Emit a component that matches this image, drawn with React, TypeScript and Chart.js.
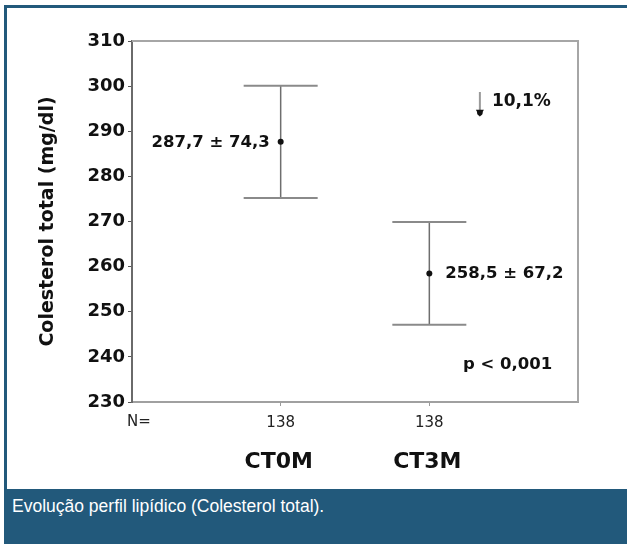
import React, { useEffect, useRef } from 'react';
import { Chart, registerables } from 'chart.js';

Chart.register(...registerables);

// ---- data ----
const categories = ['CT0M', 'CT3M'];
const categoryX = [1, 2];
const nValues = [138, 138];
const means = [287.7, 258.5];
const sds = [74.3, 67.2];
const ciLower = [275.2, 247.1];
const ciUpper = [300.1, 269.9];
const yMin = 230;
const yMax = 310;
const yStep = 10;
const xMin = 0;
const xMax = 3;
const changeText = '10,1%';
const changeArrowX = [2.34];
const changeArrowY = [298.7, 294.3];
const pText = 'p < 0,001';
const pPos = [2.226, 238.2];
const nPrefix = 'N=';
const captionText = 'Evolução perfil lipídico (Colesterol total).';

const FONT = '"DejaVu Sans", sans-serif';
const BLUE = '#22597b';

const fmt = (v: number) => v.toFixed(1).replace('.', ',');

const overlay = {
  id: 'overlay',
  beforeDatasetsDraw(chart: any) {
    const { ctx, chartArea: a, scales } = chart;
    const x = scales.x;
    const y = scales.y;
    ctx.save();
    // top and right frame of plot
    ctx.strokeStyle = '#a6a6a6';
    ctx.lineWidth = 2;
    ctx.beginPath();
    ctx.moveTo(a.left, a.top);
    ctx.lineTo(a.right, a.top);
    ctx.lineTo(a.right, a.bottom);
    ctx.stroke();
    // error bars
    categoryX.forEach((cx, i) => {
      const px = x.getPixelForValue(cx);
      const yl = y.getPixelForValue(ciLower[i]);
      const yu = y.getPixelForValue(ciUpper[i]);
      ctx.strokeStyle = '#6e6e6e';
      ctx.lineWidth = 1.5;
      ctx.beginPath();
      ctx.moveTo(px, yl);
      ctx.lineTo(px, yu);
      ctx.stroke();
      ctx.strokeStyle = '#8a8a8a';
      ctx.lineWidth = 2;
      ctx.beginPath();
      ctx.moveTo(px - 37, yu);
      ctx.lineTo(px + 37, yu);
      ctx.moveTo(px - 37, yl);
      ctx.lineTo(px + 37, yl);
      ctx.stroke();
    });
    ctx.restore();
  },
  afterDraw(chart: any) {
    const { ctx, chartArea: a, scales } = chart;
    const x = scales.x;
    const y = scales.y;
    ctx.save();
    ctx.fillStyle = '#111';
    ctx.textBaseline = 'middle';
    // value labels
    ctx.font = `bold 16.5px ${FONT}`;
    const p0 = x.getPixelForValue(categoryX[0]);
    ctx.textAlign = 'right';
    ctx.fillText(`${fmt(means[0])} ± ${fmt(sds[0])}`, p0 - 11, y.getPixelForValue(means[0]) + 1);
    const p1 = x.getPixelForValue(categoryX[1]);
    ctx.textAlign = 'left';
    ctx.fillText(`${fmt(means[1])} ± ${fmt(sds[1])}`, p1 + 16, y.getPixelForValue(means[1]));
    // arrow
    const ax = x.getPixelForValue(changeArrowX[0]);
    const yf = y.getPixelForValue(changeArrowY[0]);
    const yt = y.getPixelForValue(changeArrowY[1]);
    ctx.strokeStyle = '#9a9a9a';
    ctx.lineWidth = 2;
    ctx.beginPath();
    ctx.moveTo(ax, yf);
    ctx.lineTo(ax, yt);
    ctx.stroke();
    ctx.fillStyle = '#111';
    ctx.beginPath();
    ctx.moveTo(ax - 4, yt - 2);
    ctx.lineTo(ax + 4, yt - 2);
    ctx.lineTo(ax, yt + 5);
    ctx.closePath();
    ctx.fill();
    ctx.beginPath();
    ctx.arc(ax, yt + 1, 2.8, 0, Math.PI * 2);
    ctx.fill();
    ctx.font = `bold 17px ${FONT}`;
    ctx.textAlign = 'left';
    ctx.fillText(changeText, ax + 12, yf + 10);
    // p value
    ctx.font = `bold 16.5px ${FONT}`;
    ctx.fillText(pText, x.getPixelForValue(pPos[0]), y.getPixelForValue(pPos[1]));
    // N= prefix
    ctx.font = `15px ${FONT}`;
    ctx.fillStyle = '#222';
    ctx.fillText(nPrefix, a.left - 5, a.bottom + 20);
    // category names
    ctx.font = `bold 22px ${FONT}`;
    ctx.fillStyle = '#111';
    ctx.textAlign = 'center';
    categoryX.forEach((cx, i) => {
      ctx.fillText(categories[i], x.getPixelForValue(cx) - 2, a.bottom + 60);
    });
    ctx.restore();
  },
};

export default function App() {
  const ref = useRef<HTMLCanvasElement | null>(null);
  useEffect(() => {
    if (!ref.current) return;
    const chart = new Chart(ref.current, {
      type: 'scatter',
      data: {
        datasets: [
          {
            label: 'Média',
            data: categoryX.map((cx, i) => ({ x: cx, y: means[i] })),
            pointRadius: 3,
            pointHoverRadius: 3,
            pointBackgroundColor: '#111',
            pointBorderColor: '#111',
            pointBorderWidth: 0,
          },
        ],
      },
      options: {
        responsive: false,
        animation: false,
        devicePixelRatio: 1,
        layout: { padding: { top: 41, right: 49, left: 0, bottom: 0 } },
        plugins: { legend: { display: false }, tooltip: { enabled: false } },
        events: [],
        scales: {
          x: {
            type: 'linear',
            min: xMin,
            max: xMax,
            afterFit: (s: any) => {
              s.height = 87;
            },
            afterBuildTicks: (s: any) => {
              s.ticks = [0, 1, 2, 3].map((v) => ({ value: v }));
            },
            ticks: {
              stepSize: 1,
              padding: 8,
              color: '#222',
              font: { family: FONT, size: 15 },
              callback: (v: any) => {
                const idx = categoryX.indexOf(Number(v));
                return idx >= 0 ? String(nValues[idx]) : '';
              },
            },
            grid: {
              drawOnChartArea: false,
              tickLength: 4,
              color: (c: any) => (categoryX.includes(c.tick?.value) ? '#9a9a9a' : 'rgba(0,0,0,0)'),
            },
            border: { color: '#a0a0a0', width: 2 },
          },
          y: {
            type: 'linear',
            min: yMin,
            max: yMax,
            afterFit: (s: any) => {
              s.width = 132;
            },
            ticks: {
              stepSize: yStep,
              padding: 3,
              color: '#111',
              font: { family: FONT, size: 18, weight: 'bold' },
              callback: (v: any) => String(v),
            },
            grid: { drawOnChartArea: false, tickLength: 4, color: '#555' },
            border: { color: '#6a6a6a', width: 2 },
            title: {
              display: true,
              text: 'Colesterol total (mg/dl)',
              color: '#111',
              font: { family: FONT, size: 19, weight: 'bold' },
              padding: { top: 37, bottom: 0 },
            },
          },
        },
      },
      plugins: [overlay],
    });
    return () => chart.destroy();
  }, []);

  return (
    <div style={{ position: 'absolute', left: 0, top: 0, width: 627, height: 544, background: '#fff', overflow: 'hidden' }}>
      <canvas ref={ref} width={627} height={489} style={{ position: 'absolute', left: 0, top: 0, width: 627, height: 489 }} />
      <div style={{ position: 'absolute', left: 4, top: 5, width: 623, height: 3, background: BLUE }} />
      <div style={{ position: 'absolute', left: 4, top: 5, width: 3, height: 484, background: BLUE }} />
      <div style={{ position: 'absolute', left: 4, top: 489, width: 623, height: 55, background: BLUE }}>
        <div
          style={{
            position: 'absolute',
            left: 8,
            top: 8,
            whiteSpace: 'nowrap',
            color: '#fff',
            fontFamily: '"Liberation Sans", Arial, sans-serif',
            fontSize: 17.5,
            lineHeight: '18px',
          }}
        >
          {captionText}
        </div>
      </div>
    </div>
  );
}
